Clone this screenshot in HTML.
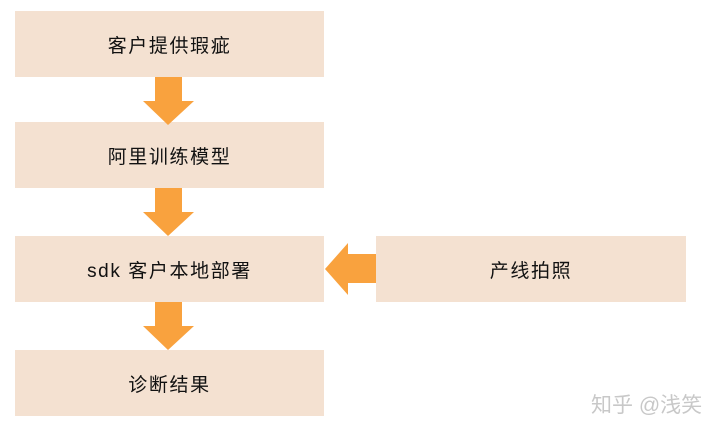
<!DOCTYPE html>
<html><head><meta charset="utf-8"><style>
body{margin:0;width:724px;height:435px;background:#fff;position:relative;overflow:hidden;font-family:"Liberation Sans","Noto Sans CJK SC",sans-serif}
.b{position:absolute;background:#f4e1d1;display:flex;align-items:center;justify-content:center;font-size:19px;letter-spacing:1.6px;color:#111}
.w{position:absolute;left:591px;top:389px;font-size:21px;color:#c8c8c8;white-space:nowrap}
</style></head><body>
<div class="b" style="left:15px;top:11px;width:309px;height:66px">客户提供瑕疵</div>
<div class="b" style="left:15px;top:122px;width:309px;height:66px">阿里训练模型</div>
<div class="b" style="left:15px;top:236px;width:309px;height:66px">sdk 客户本地部署</div>
<div class="b" style="left:15px;top:350px;width:309px;height:66px">诊断结果</div>
<div class="b" style="left:376px;top:236px;width:310px;height:66px">产线拍照</div>
<svg width="724" height="435" style="position:absolute;left:0;top:0">
<g fill="#f9a23e">
<polygon points="155,77 182,77 182,101 194,101 168,125 143,101 155,101"/>
<polygon points="155,188 182,188 182,212 194,212 168,236 143,212 155,212"/>
<polygon points="155,302 182,302 182,326 194,326 168,350 143,326 155,326"/>
<polygon points="376,254 348,254 348,243 325,269 348,295 348,283 376,283"/>
</g></svg>
<div class="w">知乎 @浅笑</div>
</body></html>
